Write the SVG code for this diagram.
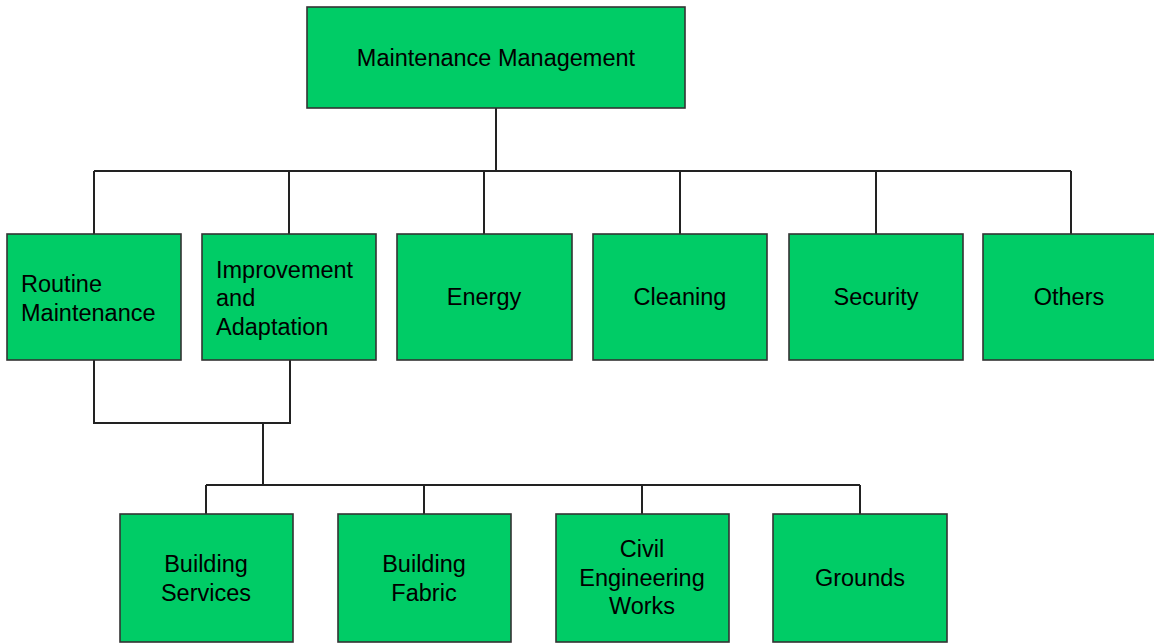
<svg xmlns="http://www.w3.org/2000/svg" width="1154" height="643" viewBox="0 0 1154 643">
  <style>
    .box { fill: #00CC66; stroke: #333333; stroke-width: 1.6; }
    .lbl { font-family: "Liberation Sans", Arial, sans-serif; font-size: 23.5px; fill: #000000; }
    .mid { text-anchor: middle; }
    .wire { fill: none; stroke: #222222; stroke-width: 2; }
  </style>
  <rect width="1154" height="643" fill="#ffffff"/>

  <g id="connectors">
    <!-- top level to second row -->
    <path class="wire" d="M496 108 V171 M94 171 H1071 M94 171 V234 M289 171 V234 M484 171 V234 M680 171 V234 M876 171 V234 M1071 171 V234"/>
    <!-- first two branches merge and feed the bottom row -->
    <path class="wire" d="M94 360 V423 H290 V360 M263 423 V485 M206 485 H860 M206 485 V514 M424 485 V514 M642 485 V514 M860 485 V514"/>
  </g>

  <g id="maintenance-management">
    <rect class="box" x="307" y="7" width="378" height="101"/>
    <text class="lbl mid" x="496" y="66">Maintenance Management</text>
  </g>

  <g id="routine-maintenance">
    <rect class="box" x="7" y="234" width="174" height="126"/>
    <text class="lbl" x="21" y="292">Routine</text>
    <text class="lbl" x="21" y="321">Maintenance</text>
  </g>

  <g id="improvement-adaptation">
    <rect class="box" x="202" y="234" width="174" height="126"/>
    <text class="lbl" x="216" y="278">Improvement</text>
    <text class="lbl" x="216" y="306">and</text>
    <text class="lbl" x="216" y="335">Adaptation</text>
  </g>

  <g id="energy">
    <rect class="box" x="397" y="234" width="175" height="126"/>
    <text class="lbl mid" x="484" y="305">Energy</text>
  </g>

  <g id="cleaning">
    <rect class="box" x="593" y="234" width="174" height="126"/>
    <text class="lbl mid" x="680" y="305">Cleaning</text>
  </g>

  <g id="security">
    <rect class="box" x="789" y="234" width="174" height="126"/>
    <text class="lbl mid" x="876" y="305">Security</text>
  </g>

  <g id="others">
    <rect class="box" x="983" y="234" width="176" height="126"/>
    <text class="lbl mid" x="1069" y="305">Others</text>
  </g>

  <g id="building-services">
    <rect class="box" x="120" y="514" width="173" height="128"/>
    <text class="lbl mid" x="206" y="572">Building</text>
    <text class="lbl mid" x="206" y="601">Services</text>
  </g>

  <g id="building-fabric">
    <rect class="box" x="338" y="514" width="173" height="128"/>
    <text class="lbl mid" x="424" y="572">Building</text>
    <text class="lbl mid" x="424" y="601">Fabric</text>
  </g>

  <g id="civil-engineering-works">
    <rect class="box" x="556" y="514" width="173" height="128"/>
    <text class="lbl mid" x="642" y="557">Civil</text>
    <text class="lbl mid" x="642" y="586">Engineering</text>
    <text class="lbl mid" x="642" y="614">Works</text>
  </g>

  <g id="grounds">
    <rect class="box" x="773" y="514" width="174" height="128"/>
    <text class="lbl mid" x="860" y="586">Grounds</text>
  </g>
</svg>
